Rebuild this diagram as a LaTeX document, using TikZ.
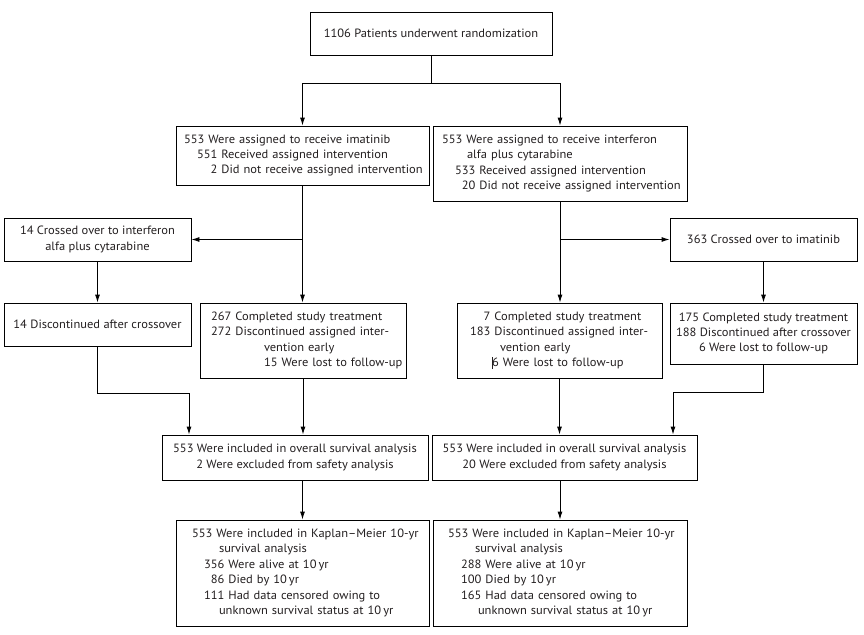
\documentclass[tikz,border=0pt]{standalone}
\usepackage{fontspec}
\setmainfont{PT Sans}[FakeStretch=1.04]
\usetikzlibrary{arrows.meta}
\definecolor{ink}{HTML}{231F20}
\newcommand\lin[1]{\mbox{#1}}
\newcommand\bx[7][]{%
  \node[box,#1,minimum width={#5-#3},minimum height={#6-#4}] (#2) at ({(#3+#5)/2},{(#4+#6)/2}) {#7};}
\begin{document}
\begin{tikzpicture}[x=1pt,y=-1pt,
  box/.style={draw=black,line width=0.9pt,inner sep=0pt,text=ink,
    font=\fontsize{12}{15.4}\selectfont,align=center},
  lbox/.style={align=left,text width=#1},
  arr/.style={draw=black,line width=0.9pt,-{Latex[length=8pt,width=5pt]}},
  ln/.style={draw=black,line width=0.9pt}]
\useasboundingbox (0,0) rectangle (864,634);
\fill[white] (0,0) rectangle (864,634);

\bx{top}{310}{12}{552}{55}{1106 Patients underwent randomization}
\bx[lbox=237pt]{ima}{176}{126}{429}{185}{%
\lin{553 Were assigned to receive imatinib}\\
\lin{\hspace*{13pt}551 Received assigned intervention}\\
\lin{\hspace*{13pt}\hphantom{55}2 Did not receive assigned intervention}}
\bx[lbox=236pt]{ifn}{433}{126}{687}{201}{%
\lin{553 Were assigned to receive interferon}\\
\lin{\hspace*{25pt}alfa plus cytarabine}\\
\lin{\hspace*{13pt}533 Received assigned intervention}\\
\lin{\hspace*{13pt}\hphantom{5}20 Did not receive assigned intervention}}
\bx{cx14}{4}{218}{191}{261}{14 Crossed over to interferon\\alfa plus cytarabine}
\bx{cx363}{670}{218}{857}{261}{363 Crossed over to imatinib}
\bx{disc14}{4}{303}{191}{346}{14 Discontinued after crossover}
\bx[lbox=184pt]{d267}{200}{303}{406}{378}{%
\lin{267 Completed study treatment}\\
\lin{272 Discontinued assigned inter-}\\
\lin{\hspace*{53pt}vention early}\\
\lin{\hspace*{53pt}15 Were lost to follow-up}}
\bx[lbox=179pt]{d7}{457}{303}{662}{378}{%
\lin{\hphantom{18}7 Completed study treatment}\\
\lin{183 Discontinued assigned inter-}\\
\lin{\hspace*{30pt}vention early}\\
\lin{\hspace*{22pt}\rlap{\rule[-2.5pt]{0.9pt}{12pt}}6 Were lost to follow-up}}
\bx{d175}{670}{303}{857}{364}{%
\lin{175 Completed study treatment}\\
\lin{188 Discontinued after crossover}\\
\lin{6 Were lost to follow-up}}
\bx{ovl}{162}{435}{428}{480}{%
\lin{553 Were included in overall survival analysis}\\
\lin{2 Were excluded from safety analysis}}
\bx{ovr}{432}{435}{697}{480}{%
\lin{553 Were included in overall survival analysis}\\
\lin{20 Were excluded from safety analysis}}
\bx[lbox=221pt]{kml}{176}{520}{429}{626}{%
\lin{553 Were included in Kaplan--Meier 10-yr}\\
\lin{\hspace*{27pt}survival analysis}\\
\lin{\hspace*{12pt}356 Were alive at 10\,yr}\\
\lin{\hspace*{12pt}\hphantom{1}86 Died by 10\,yr}\\
\lin{\hspace*{12pt}111 Had data censored owing to}\\
\lin{\hspace*{27pt}unknown survival status at 10\,yr}}
\bx[lbox=224pt]{kmr}{433}{520}{687}{626}{%
\lin{553 Were included in Kaplan--Meier 10-yr}\\
\lin{\hspace*{27pt}survival analysis}\\
\lin{\hspace*{13pt}288 Were alive at 10\,yr}\\
\lin{\hspace*{13pt}100 Died by 10\,yr}\\
\lin{\hspace*{13pt}165 Had data censored owing to}\\
\lin{\hspace*{30pt}unknown survival status at 10\,yr}}

\coordinate (b1) at (431,83);
\coordinate (c1) at (189,393);
\coordinate (c2) at (673,392);

\draw[ln] (top.south) -- (b1);
\draw[arr] (b1) -| (ima.north);
\draw[arr] (b1) -| (ifn.north);
\draw[arr] (ima.south) -- (ima.south |- d267.north);
\draw[arr] (ima.south |- cx14.east) -- (cx14.east);
\draw[arr] (ifn.south) -- (ifn.south |- d7.north);
\draw[arr] (ifn.south |- cx363.west) -- (cx363.west);
\draw[arr] (cx14.south) -- (disc14.north);
\draw[arr] (cx363.south) -- (d175.north);
\draw[arr] (disc14.south) |- (c1) -- (c1 |- ovl.north);
\draw[arr] (d267.south) -- (d267.south |- ovl.north);
\draw[arr] (d7.south) -- (d7.south |- ovr.north);
\draw[arr] (d175.south) |- (c2) -- (c2 |- ovr.north);
\draw[arr] (kml.north |- ovl.south) -- (kml.north);
\draw[arr] (kmr.north |- ovr.south) -- (kmr.north);
\end{tikzpicture}
\end{document}
